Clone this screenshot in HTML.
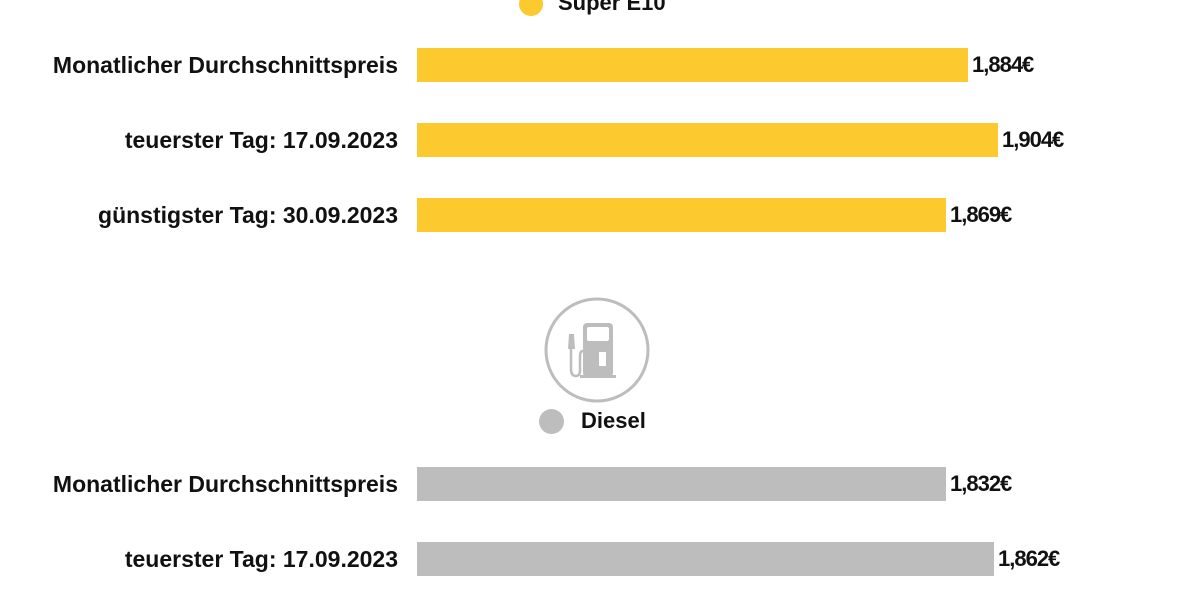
<!DOCTYPE html>
<html><head><meta charset="utf-8"><style>
body{margin:0;width:1200px;height:600px;overflow:hidden;background:#fff;font-family:"Liberation Sans",sans-serif;}
.t{position:absolute;font-weight:bold;font-size:22px;color:#111;line-height:34px;white-space:nowrap}
.l{right:802px;text-align:right;font-size:23px}
.v{letter-spacing:-1px}
.b{position:absolute;left:417px;height:34px}
.y{background:#fcc92e}.g{background:#bdbdbd}
</style></head><body>
<div style="position:absolute;left:519px;top:-8px;width:24px;height:24px;border-radius:50%;background:#fcc92e"></div>
<div class="t" style="left:558px;top:-14px">Super E10</div>

<div class="t l" style="top:48px">Monatlicher Durchschnittspreis</div>
<div class="b y" style="top:48px;width:551px"></div><div class="t v" style="left:972px;top:48px">1,884€</div>
<div class="t l" style="top:123px">teuerster Tag: 17.09.2023</div>
<div class="b y" style="top:123px;width:581px"></div><div class="t v" style="left:1002px;top:123px">1,904€</div>
<div class="t l" style="top:198px">günstigster Tag: 30.09.2023</div>
<div class="b y" style="top:198px;width:529px"></div><div class="t v" style="left:950px;top:198px">1,869€</div>

<svg style="position:absolute;left:540px;top:294px" width="114" height="114" viewBox="0 0 114 114">
<circle cx="57" cy="56" r="51" fill="none" stroke="#bdbdbd" stroke-width="3"/>
<rect x="43" y="29" width="30" height="54" rx="4" fill="#bdbdbd"/>
<rect x="47" y="33" width="22" height="14" rx="2" fill="#fff"/>
<rect x="59" y="58" width="7" height="14" fill="#fff"/>
<rect x="40" y="81" width="36" height="3" fill="#bdbdbd"/>
<path d="M31 48 L31 75 Q31 82 36 82 Q40 82 40 76 L40 62 Q40 57 43 57" fill="none" stroke="#bdbdbd" stroke-width="2.5"/>
<path d="M29 40 L34 40 L35 55 L28 55 Z" fill="#bdbdbd"/>
</svg>

<div style="position:absolute;left:539px;top:409px;width:25px;height:25px;border-radius:50%;background:#bdbdbd"></div>
<div class="t" style="left:581px;top:404px">Diesel</div>

<div class="t l" style="top:467px">Monatlicher Durchschnittspreis</div>
<div class="b g" style="top:467px;width:529px"></div><div class="t v" style="left:950px;top:467px">1,832€</div>
<div class="t l" style="top:542px">teuerster Tag: 17.09.2023</div>
<div class="b g" style="top:542px;width:577px"></div><div class="t v" style="left:998px;top:542px">1,862€</div>
</body></html>
